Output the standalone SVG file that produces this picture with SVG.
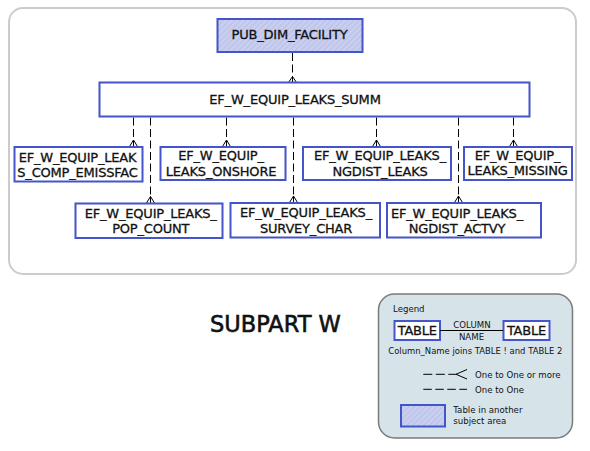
<svg xmlns="http://www.w3.org/2000/svg" width="590" height="451" viewBox="0 0 590 451">
<defs>
<pattern id="hatch" width="4" height="4" patternUnits="userSpaceOnUse" patternTransform="rotate(45)">
<rect width="4" height="4" fill="#c9ceef"/>
<line x1="0" y1="0" x2="0" y2="4" stroke="#b3bbe8" stroke-width="1.5"/>
</pattern>
<style>
.tbl{fill:#fff;stroke:#4455cc;stroke-width:2}
.ext{fill:url(#hatch);stroke:#4455cc;stroke-width:2}
.t{font-family:"DejaVu Sans",Verdana,sans-serif;font-size:13px;letter-spacing:-0.2px;fill:#111;stroke:#111;stroke-width:0.3px;text-anchor:middle}
.lg{font-family:"DejaVu Sans",Verdana,sans-serif;font-size:8.6px;fill:#111}
.conn{stroke:#000;stroke-width:1;fill:none;stroke-dasharray:8 3.5}
.crow{stroke:#000;stroke-width:1;fill:none}
</style>
</defs>
<rect width="590" height="451" fill="#fff"/>
<rect x="9" y="8" width="567" height="266" rx="14" fill="#fff" stroke="#cccccc" stroke-width="2"/>

<g id="connectors">
<line class="conn" x1="292.5" y1="53" x2="292.5" y2="82"/>
<path class="crow" d="M288.5,82.5 L292.5,76.5 L296.5,82.5 M292.5,76.5 V82.5"/>
<line class="conn" x1="133.5" y1="117.5" x2="133.5" y2="146"/>
<path class="crow" d="M129.5,146.5 L133.5,140 L137.5,146.5 M133.5,140 V146.5"/>
<line class="conn" x1="150.5" y1="117.5" x2="150.5" y2="203"/>
<path class="crow" d="M146.5,203 L150.5,196.5 L154.5,203 M150.5,196.5 V203"/>
<line class="conn" x1="226.5" y1="117.5" x2="226.5" y2="146"/>
<path class="crow" d="M222.5,146.5 L226.5,140 L230.5,146.5 M226.5,140 V146.5"/>
<line class="conn" x1="293.5" y1="117.5" x2="293.5" y2="202.5"/>
<path class="crow" d="M289.5,202.5 L293.5,196 L297.5,202.5 M293.5,196 V202.5"/>
<line class="conn" x1="376.5" y1="117.5" x2="376.5" y2="146"/>
<path class="crow" d="M372.5,146.5 L376.5,140 L380.5,146.5 M376.5,140 V146.5"/>
<line class="conn" x1="458.5" y1="117.5" x2="458.5" y2="202.5"/>
<path class="crow" d="M454.5,202.5 L458.5,196 L462.5,202.5 M458.5,196 V202.5"/>
<line class="conn" x1="513.5" y1="117.5" x2="513.5" y2="146"/>
<path class="crow" d="M509.5,146.5 L513.5,140 L517.5,146.5 M513.5,140 V146.5"/>
</g>

<g id="pub_dim_facility">
<rect class="ext" x="217.5" y="19" width="145" height="33"/>
<text class="t" x="289.5" y="38.5">PUB_DIM_FACILITY</text>
</g>
<g id="ef_w_equip_leaks_summ">
<rect class="tbl" x="99.5" y="82.5" width="430" height="34"/>
<text class="t" x="295" y="104">EF_W_EQUIP_LEAKS_SUMM</text>
</g>
<g id="comp_emissfac">
<rect class="tbl" x="14.5" y="147" width="128" height="34.5"/>
<text class="t" x="77.5" y="161.5">EF_W_EQUIP_LEAK</text>
<text class="t" x="77.5" y="176.5">S_COMP_EMISSFAC</text>
</g>
<g id="leaks_onshore">
<rect class="tbl" x="160.5" y="147" width="125" height="33"/>
<text class="t" x="221" y="160">EF_W_EQUIP_</text>
<text class="t" x="221" y="176">LEAKS_ONSHORE</text>
</g>
<g id="ngdist_leaks">
<rect class="tbl" x="303" y="147" width="148" height="33"/>
<text class="t" x="380" y="160">EF_W_EQUIP_LEAKS_</text>
<text class="t" x="380" y="176">NGDIST_LEAKS</text>
</g>
<g id="leaks_missing">
<rect class="tbl" x="464" y="147" width="108" height="33"/>
<text class="t" x="517.5" y="159.5">EF_W_EQUIP_</text>
<text class="t" x="517.5" y="175">LEAKS_MISSING</text>
</g>
<g id="pop_count">
<rect class="tbl" x="75.5" y="203.5" width="147" height="34.5"/>
<text class="t" x="150.7" y="218.3">EF_W_EQUIP_LEAKS_</text>
<text class="t" x="150.7" y="233.3">POP_COUNT</text>
</g>
<g id="survey_char">
<rect class="tbl" x="230.5" y="203" width="149.5" height="34.5"/>
<text class="t" x="306" y="216.5">EF_W_EQUIP_LEAKS_</text>
<text class="t" x="306" y="232.5">SURVEY_CHAR</text>
</g>
<g id="ngdist_actvy">
<rect class="tbl" x="387" y="203" width="154" height="34.5"/>
<text class="t" x="457" y="218.3">EF_W_EQUIP_LEAKS_</text>
<text class="t" x="457" y="233.3">NGDIST_ACTVY</text>
</g>

<text x="210" y="331.7" font-family="'DejaVu Sans',Verdana,sans-serif" font-size="22.5" fill="#111" stroke="#111" stroke-width="0.6">SUBPART W</text>

<g id="legend">
<rect x="378.5" y="294" width="194" height="144" rx="16" fill="#d6e4ea" stroke="#7a7a7a" stroke-width="1.5"/>
<text class="lg" x="393" y="311.5" font-size="8.3">Legend</text>
<rect class="tbl" x="394.5" y="321" width="45.5" height="19"/>
<text class="t" x="417.3" y="334.7" font-size="11" letter-spacing="0" stroke-width="0.2">TABLE</text>
<rect class="tbl" x="503.5" y="321" width="46" height="19"/>
<text class="t" x="526.5" y="334.7" font-size="11" letter-spacing="0" stroke-width="0.2">TABLE</text>
<line x1="440" y1="330.5" x2="503" y2="330.5" stroke="#000" stroke-width="1"/>
<text class="lg" x="472" y="328.3" text-anchor="middle" font-size="9">COLUMN</text>
<text class="lg" x="471.5" y="339.5" text-anchor="middle" font-size="9">NAME</text>
<text class="lg" x="388.3" y="354.3" textLength="174" lengthAdjust="spacingAndGlyphs">Column_Name joins TABLE ! and TABLE 2</text>
<line x1="423.3" y1="374.3" x2="457" y2="374.3" stroke="#000" stroke-width="1" stroke-dasharray="9 3.5"/>
<path d="M467,369.5 L456,374.3 L467,379" stroke="#000" stroke-width="1" fill="none"/>
<text class="lg" x="475" y="377.5">One to One or more</text>
<line x1="423.3" y1="389.3" x2="467" y2="389.3" stroke="#000" stroke-width="1" stroke-dasharray="8.5 3.5"/>
<text class="lg" x="475" y="392.5">One to One</text>
<rect class="ext" x="401" y="405" width="44" height="21.5"/>
<text class="lg" x="453.3" y="413.3">Table in another</text>
<text class="lg" x="453.3" y="424.3">subject area</text>
</g>
</svg>
